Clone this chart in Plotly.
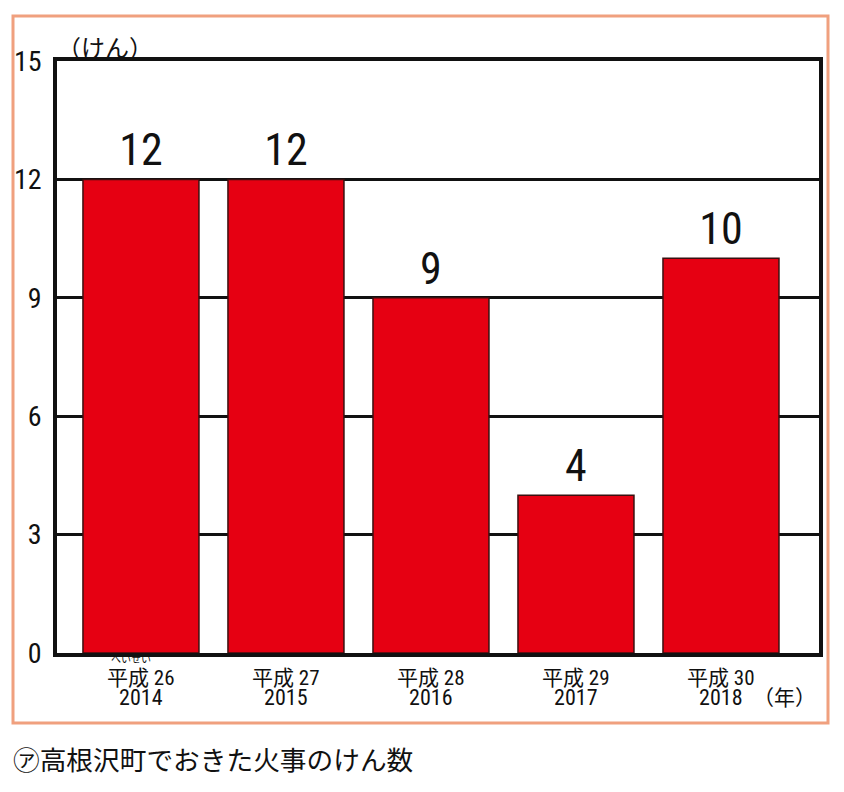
import plotly.graph_objects as go

# ---- data ----
eras = ["平成 26", "平成 27", "平成 28", "平成 29", "平成 30"]
years = ["2014", "2015", "2016", "2017", "2018"]
fires = [12, 12, 9, 4, 10]
y_ticks = [0, 3, 6, 9, 12, 15]

title_text = "㋐高根沢町でおきた火事のけん数"
y_unit = "（けん）"
x_unit = "（年）"
furigana = "へいせい"

NUM_FONT = "Liberation Sans Narrow, Roboto Condensed, Arial Narrow, Noto Sans CJK JP, sans-serif"
JP_FONT = "Noto Sans CJK JP, sans-serif"

W, H = 844, 792
L, R, T, B = 57, 819, 61, 653  # plot area pixels

def px(x):
    return (x - L) / (R - L)

def py(y):
    return (B - y) / (B - T)

xs = list(range(len(fires)))

fig = go.Figure()
fig.add_trace(go.Bar(
    x=xs, y=fires, width=0.8,
    marker=dict(color="#E60012", line=dict(color="#3a1010", width=1.5)),
    text=[str(v) for v in fires], textposition="outside",
    textfont=dict(family=NUM_FONT, size=44, color="#111"),
    cliponaxis=False, hoverinfo="skip",
))

annotations = []
for i, (e, yr) in enumerate(zip(eras, years)):
    label = (f'<span style="font-size:21px">{e}</span><br>'
             f'<span style="font-size:22px">{yr}</span>')
    annotations.append(dict(x=i, y=py(688), xref="x", yref="paper", text=label,
                            showarrow=False, font=dict(family=NUM_FONT, size=15.6, color="#111"),
                            xanchor="center", yanchor="middle", align="center"))
annotations.append(dict(x=0, y=py(658), xref="x", yref="paper", text=furigana, xshift=-10,
                        showarrow=False, font=dict(family=JP_FONT, size=10, color="#111"),
                        xanchor="center", yanchor="middle"))
annotations.append(dict(x=px(784), y=py(696), xref="paper", yref="paper", text=x_unit,
                        showarrow=False, font=dict(family=JP_FONT, size=21, color="#111"),
                        xanchor="center", yanchor="middle"))
annotations.append(dict(x=px(55), y=py(47), xref="paper", yref="paper", text=y_unit,
                        showarrow=False, font=dict(family=JP_FONT, size=24, color="#111"),
                        xanchor="left", yanchor="middle"))
annotations.append(dict(x=px(11), y=py(759), xref="paper", yref="paper", text=title_text,
                        showarrow=False, font=dict(family=JP_FONT, size=26.7, color="#111"),
                        xanchor="left", yanchor="middle"))

shapes = [dict(type="rect", xref="paper", yref="paper",
               x0=px(13), x1=px(828), y0=py(16), y1=py(723),
               line=dict(color="#F0A07E", width=3), layer="below")]

fig.update_layout(
    width=W, height=H,
    margin=dict(l=L, r=W - R, t=T, b=H - B, pad=0),
    paper_bgcolor="white", plot_bgcolor="white",
    showlegend=False,
    bargap=0.2,
    xaxis=dict(range=[-0.579, 4.676], showticklabels=False, ticks="", showgrid=False,
               zeroline=False, showline=True, linecolor="#111", linewidth=3.5, mirror=True,
               fixedrange=True),
    yaxis=dict(range=[0, 15], tickvals=y_ticks, ticktext=[str(v) for v in y_ticks],
               tickfont=dict(family=NUM_FONT, size=28, color="#111"),
               showgrid=True, gridcolor="#111", gridwidth=3, zeroline=False,
               showline=True, linecolor="#111", linewidth=3.5, mirror=True,
               ticks="", ticklabelstandoff=6, fixedrange=True),
    annotations=annotations, shapes=shapes,
)

fig.write_html("out.html")
